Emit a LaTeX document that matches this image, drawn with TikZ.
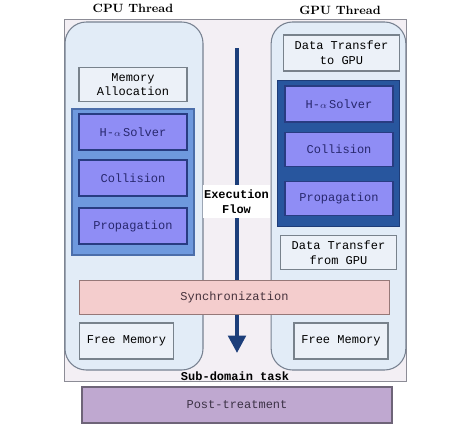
\documentclass[tikz,border=0pt]{standalone}
\usepackage{fontspec}
\setmonofont{Liberation Mono}
\usetikzlibrary{arrows.meta}
\definecolor{framefill}{RGB}{243,239,244}
\definecolor{threadfill}{RGB}{226,236,247}
\definecolor{boxfill}{RGB}{236,241,248}
\definecolor{panelblue}{RGB}{110,153,222}
\definecolor{paneldark}{RGB}{40,86,158}
\definecolor{taskfill}{RGB}{143,141,245}
\definecolor{syncfill}{RGB}{244,205,205}
\definecolor{postfill}{RGB}{191,168,208}
\definecolor{flowblue}{RGB}{28,62,122}
\tikzset{
  threadbox/.style={draw={rgb,255:red,120;green,130;blue,145}, fill=threadfill, line width=0.8, rounded corners=16},
  plainbox/.style={draw={rgb,255:red,120;green,130;blue,140}, fill=boxfill, line width=0.8, font=\ttfamily\small, align=center, inner sep=0},
  taskbox/.style={draw={rgb,255:red,40;green,60;blue,130}, fill=taskfill, line width=0.8, font=\ttfamily\small, text={rgb,255:red,40;green,40;blue,110}, inner sep=0},
  titletext/.style={font=\bfseries\small},
}
\begin{document}
\begin{tikzpicture}[x=0.75pt,y=0.75pt,yscale=-1,xscale=1]
    \useasboundingbox (0,0) rectangle (474,436);

    % Sub-domain frame
    \node (frame) [draw={rgb,255:red,140;green,140;blue,150}, fill=framefill, line width=0.8, minimum width=257pt, minimum height=271pt, inner sep=0] at (235.5,200.5) {};
    % Thread boxes
    \node (cpu) [threadbox, minimum width=103.5pt, minimum height=261pt] at (134,196) {};
    \node (gpu) [threadbox, minimum width=101pt, minimum height=261pt] at (338.5,196) {};
    \node (cpulabel) [titletext] at (133,8) {CPU Thread};
    \node (gpulabel) [titletext] at (340,10) {GPU Thread};

    % CPU side
    \node (memalloc) [plainbox, minimum width=81pt, minimum height=26pt] at (133,84.5) {Memory\\Allocation};
    \node (cpupanel) [draw={rgb,255:red,75;green,110;blue,170}, fill=panelblue, line width=0.8, minimum width=91.5pt, minimum height=109.5pt, inner sep=0] at (133,182) {};
    \node (cpusolver) [taskbox, minimum width=81pt, minimum height=27pt] at (133,132) {H-{\scriptsize$\alpha$}\,Solver};
    \node (cpucoll) [taskbox, minimum width=81pt, minimum height=27pt] at (133,178) {Collision};
    \node (cpuprop) [taskbox, minimum width=81pt, minimum height=27pt] at (133,226) {Propagation};
    \node (cpufree) [plainbox, minimum width=71pt, minimum height=27pt] at (126.5,341) {Free Memory};

    % GPU side
    \node (togpu) [plainbox, minimum width=87.5pt, minimum height=27pt] at (341.5,53) {Data Transfer\\to GPU};
    \node (gpupanel) [draw={rgb,255:red,30;green,60;blue,120}, fill=paneldark, line width=0.8, minimum width=92pt, minimum height=110pt, inner sep=0] at (338.5,153.5) {};
    \node (gpusolver) [taskbox, minimum width=81pt, minimum height=27pt] at (339,104) {H-{\scriptsize$\alpha$}\,Solver};
    \node (gpucoll) [taskbox, minimum width=81pt, minimum height=26pt] at (339,149.5) {Collision};
    \node (gpuprop) [taskbox, minimum width=81pt, minimum height=26pt] at (339,198.5) {Propagation};
    \node (fromgpu) [plainbox, minimum width=87.5pt, minimum height=26pt] at (338.5,252.5) {Data Transfer\\from GPU};
    \node (gpufree) [plainbox, minimum width=70.5pt, minimum height=27pt] at (341,341) {Free Memory};

    % Execution flow
    \coordinate (flowtop) at (237,48);
    \coordinate (flowend) at (237,353);
    \draw [flowblue, line width=3, -{Triangle[width=13pt,length=13pt]}] (flowtop) -- (flowend);
    \node (flowlabel) [fill=white, font=\ttfamily\bfseries\small, align=center, minimum width=50pt, minimum height=25pt, inner sep=0] at (236.5,201.5) {Execution\\Flow};

    % Synchronization (over the flow)
    \node (sync) [draw={rgb,255:red,150;green,120;blue,120}, fill=syncfill, line width=0.8, font=\ttfamily\small, text={rgb,255:red,70;green,50;blue,60}, minimum width=233pt, minimum height=26pt, inner sep=0] at (234.5,297.5) {Synchronization};
    \draw [flowblue, line width=3] (237,315.5) -- (237,340);
    \node (subdomain) [font=\ttfamily\bfseries\small] at (235,376) {Sub-domain task};

    % Post-treatment
    \node (post) [draw={rgb,255:red,110;green,100;blue,120}, fill=postfill, line width=0.8, font=\ttfamily\small, text={rgb,255:red,60;green,50;blue,70}, minimum width=232.5pt, minimum height=27pt, inner sep=0] at (237,405) {Post-treatment};
\end{tikzpicture}
\end{document}
